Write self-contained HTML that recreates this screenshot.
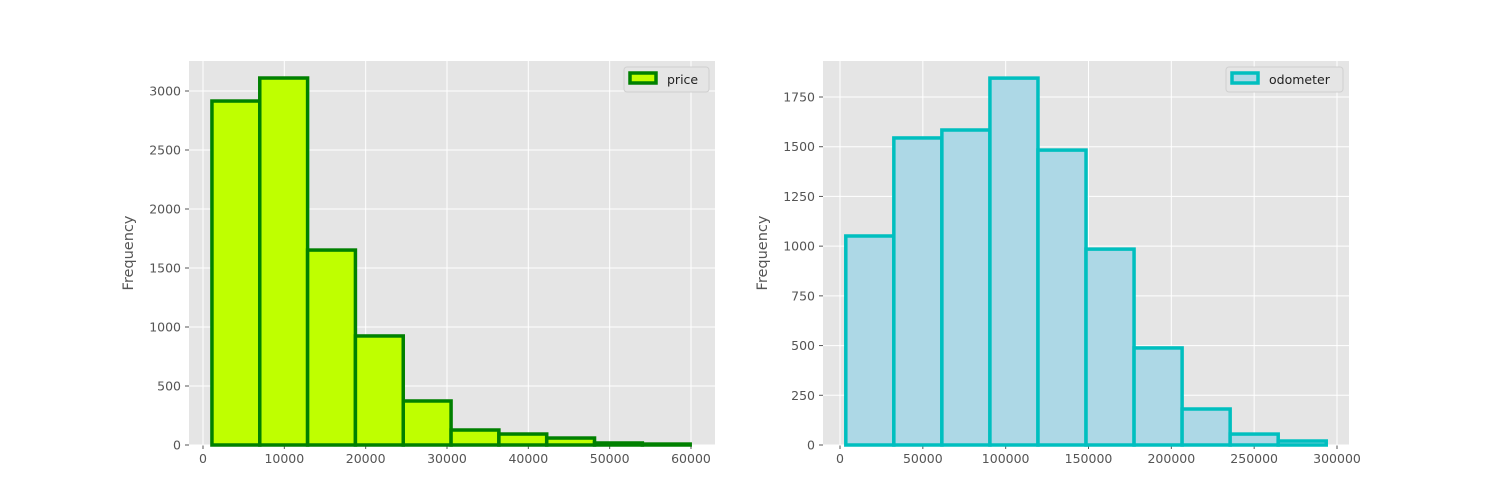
<!DOCTYPE html>
<html><head><meta charset="utf-8"><style>
body{margin:0;background:#fff;}
svg{display:block;font-family:"DejaVu Sans","Liberation Sans",sans-serif;}
</style></head><body>
<svg id="chart" width="1500" height="500"></svg>
<script>
const priceEdgeStart = 1100;
const priceBinWidth = 5880;
const priceCounts = [2915, 3110, 1652, 924, 373, 127, 93, 59, 17, 8];
const priceXTicks = [0, 10000, 20000, 30000, 40000, 50000, 60000];
const priceYTicks = [0, 500, 1000, 1500, 2000, 2500, 3000];
const odoEdgeStart = 3500;
const odoBinWidth = 29000;
const odoCounts = [1051, 1544, 1584, 1845, 1483, 985, 488, 181, 55, 20];
const odoXTicks = [0, 50000, 100000, 150000, 200000, 250000, 300000];
const odoYTicks = [0, 250, 500, 750, 1000, 1250, 1500, 1750];

const svg = document.getElementById('chart');
const NS = 'http://www.w3.org/2000/svg';
function mk(tag, attrs, parent) {
  const e = document.createElementNS(NS, tag);
  for (const k in attrs) e.setAttribute(k, attrs[k]);
  (parent || svg).appendChild(e);
  return e;
}
function panel(o) {
  const g = mk('g', {});
  
  
  const bg = mk('rect', {x: o.l, y: o.t, width: o.r - o.l, height: o.b - o.t, fill: '#e5e5e5'}, g);
  
  
  const sx = v => o.x0 + (v - o.xv0) * o.xs;
  const sy = v => o.b - v * o.ys;
  o.xTicks.forEach(t => {
    const x = sx(t);
    mk('line', {x1: x, x2: x, y1: o.t, y2: o.b, stroke: '#fff', 'stroke-width': 1}, g);
    mk('line', {x1: x, x2: x, y1: o.b, y2: o.b + 4, stroke: '#555', 'stroke-width': 1}, g);
    const tx = mk('text', {x: x, y: o.b + 18, 'text-anchor': 'middle', 'font-size': 12.5, fill: '#555'}, g);
    tx.textContent = t;
    
    
  });
  o.yTicks.forEach(t => {
    const y = sy(t);
    mk('line', {x1: o.l, x2: o.r, y1: y, y2: y, stroke: '#fff', 'stroke-width': 1}, g);
    mk('line', {x1: o.l - 4, x2: o.l, y1: y, y2: y, stroke: '#555', 'stroke-width': 1}, g);
    const tx = mk('text', {x: o.l - 8, y: y + 4.5, 'text-anchor': 'end', 'font-size': 12.5, fill: '#555'}, g);
    tx.textContent = t;
    
    
  });
  o.counts.forEach((c, i) => {
    const x1 = sx(o.start + i * o.bw), x2 = sx(o.start + (i + 1) * o.bw);
    const r = mk('rect', {x: x1, y: sy(c), width: x2 - x1, height: o.b - sy(c), fill: o.fill, stroke: o.edge, 'stroke-width': 3.5}, g);
    
    
  });
  const yl = mk('text', {x: 0, y: 0, transform: `translate(${o.l - 56},${(o.t + o.b) / 2}) rotate(-90)`, 'text-anchor': 'middle', 'font-size': 14.5, fill: '#555'}, g);
  yl.textContent = 'Frequency';
  
  
  const lg = mk('g', {}, g);
  
  
  mk('rect', {x: o.lgx, y: 67, width: o.r - 6 - o.lgx, height: 25, rx: 3, fill: '#e5e5e5', stroke: '#d0d0d0', 'stroke-width': 1}, lg);
  mk('rect', {x: o.lgx + 6, y: 73, width: 26, height: 10, fill: o.fill, stroke: o.edge, 'stroke-width': 3.5}, lg);
  const lt = mk('text', {x: o.lgx + 43, y: 84, 'font-size': 12.5, fill: '#222'}, lg);
  lt.textContent = o.label;
  
  
}
panel({name: 'price-histogram', l: 189, r: 715, t: 61, b: 445, x0: 203, xv0: 0, xs: 488 / 60000, ys: 354 / 3000,
  xTicks: priceXTicks, yTicks: priceYTicks, counts: priceCounts, start: priceEdgeStart, bw: priceBinWidth,
  fill: '#bfff00', edge: '#008000', label: 'price', lgx: 624});
panel({name: 'odometer-histogram', l: 823, r: 1349, t: 61, b: 445, x0: 840, xv0: 0, xs: 497 / 300000, ys: 348 / 1750,
  xTicks: odoXTicks, yTicks: odoYTicks, counts: odoCounts, start: odoEdgeStart, bw: odoBinWidth,
  fill: '#add8e6', edge: '#00bfbf', label: 'odometer', lgx: 1226});
</script>
</body></html>
